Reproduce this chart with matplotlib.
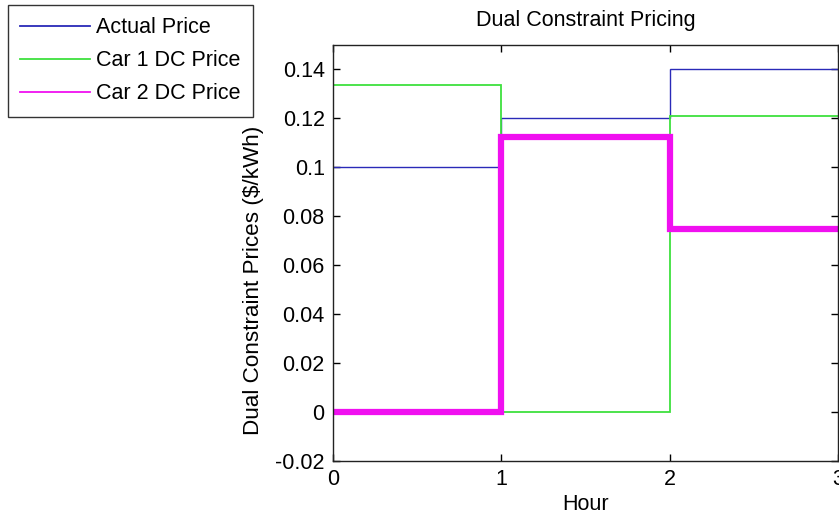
import matplotlib
matplotlib.use("Agg")
import matplotlib.pyplot as plt
from matplotlib.lines import Line2D

# hour boundaries and per-hour prices ($/kWh)
hour_edges = [0, 1, 2, 3]
actual_price = [0.10, 0.12, 0.14]
car1_dc_price = [0.1335, 0.0, 0.1208]
car2_dc_price = [0.0, 0.1122, 0.0748]

series_labels = ["Actual Price", "Car 1 DC Price", "Car 2 DC Price"]
series_colors = ["#2a2ab8", "#3ee03e", "#f010f0"]
series_widths = [1.0, 1.3, 4.5]

y_ticks = [-0.02, 0, 0.02, 0.04, 0.06, 0.08, 0.1, 0.12, 0.14]

plt.rcParams["font.family"] = ["Liberation Sans", "DejaVu Sans"]
FS = 15.5

fig = plt.figure(figsize=(8.39, 5.18), dpi=100)
ax = fig.add_axes([333 / 839, 1 - 461 / 518, 505 / 839, 416 / 518])

for vals, col, lw in zip([actual_price, car1_dc_price, car2_dc_price], series_colors, series_widths):
    ax.step(hour_edges, vals + [vals[-1]], where="post", color=col, lw=lw,
            solid_joinstyle="miter", clip_on=True)

ax.set_xlim(0, 3)
ax.set_ylim(-0.02, 0.15)
ax.set_xticks(hour_edges)
ax.set_xticklabels([str(h) for h in hour_edges])
ax.set_yticks(y_ticks)
ax.set_yticklabels([f"{v:g}" for v in y_ticks])
ax.tick_params(direction="in", top=True, right=True, length=5, width=1,
               labelsize=FS, pad=6)
for sp in ax.spines.values():
    sp.set_linewidth(1.0)
    sp.set_color("#222222")

ax.set_title("Dual Constraint Pricing", fontsize=FS, pad=14)
ax.set_xlabel("Hour", fontsize=FS, labelpad=3)
ax.set_ylabel("Dual Constraint Prices ($/kWh)", fontsize=16.2)
# the label in the original sits a bit below the axes centre
ax.yaxis.set_label_coords(-0.137, 0.433)

handles = [Line2D([], [], color=c, lw=1.3) for c in series_colors]
leg = fig.legend(handles, series_labels, loc="upper left",
                 bbox_to_anchor=(8 / 839, 1 - 5 / 518), borderaxespad=0,
                 fontsize=FS, frameon=True, fancybox=False, handlelength=3.25,
                 handletextpad=0.28, labelspacing=0.55, borderpad=0.58)
leg.get_frame().set_edgecolor("black")
leg.get_frame().set_linewidth(1.0)

fig.savefig("out.png", dpi=100)
